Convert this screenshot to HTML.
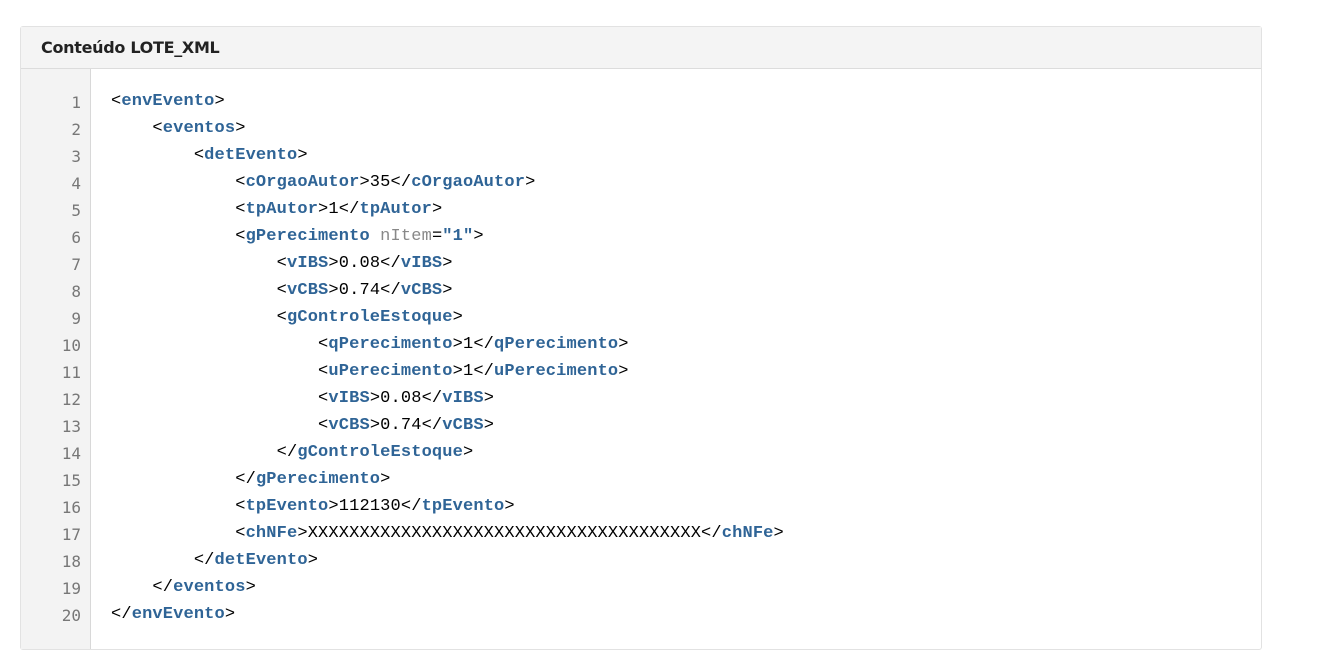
<!DOCTYPE html>
<html><head><meta charset="utf-8"><style>
body{margin:0;background:#fff;width:1329px;height:670px;overflow:hidden}
.card{position:absolute;left:20px;top:26px;width:1240px;height:622px;border:1px solid #e2e2e2;border-radius:3px;background:#fff}
.hd{height:41px;background:#f4f4f4;border-bottom:1px solid #dcdcdc;font:bold 16px "DejaVu Sans","Liberation Sans",sans-serif;color:#222;line-height:42px;padding-left:20px;letter-spacing:-0.3px}
.gut{position:absolute;left:0;top:42px;width:69px;bottom:0;background:#f3f3f3;border-right:1px solid #d8d8d8}
.ln{position:absolute;left:0;width:60px;text-align:right;font:16px "DejaVu Sans Mono","Liberation Mono",monospace;color:#777}
.cd{position:absolute;left:90px;font:17px "Liberation Mono",monospace;color:#000;white-space:pre;letter-spacing:0.15px}
.t{color:#2f6496;font-weight:bold}
.a{color:#888}
</style></head><body>
<div class="card">
<div class="hd">Conteúdo LOTE_XML</div>
<div class="gut"></div>
<div id="c"></div>
</div>
<script>
var L=[
[0,'<<b>envEvento</b>>'],[1,'<<b>eventos</b>>'],[2,'<<b>detEvento</b>>'],
[3,'<<b>cOrgaoAutor</b>>35</<b>cOrgaoAutor</b>>'],[3,'<<b>tpAutor</b>>1</<b>tpAutor</b>>'],
[3,'<<b>gPerecimento</b> <i>nItem</i>=<b>"1"</b>>'],[4,'<<b>vIBS</b>>0.08</<b>vIBS</b>>'],
[4,'<<b>vCBS</b>>0.74</<b>vCBS</b>>'],[4,'<<b>gControleEstoque</b>>'],
[5,'<<b>qPerecimento</b>>1</<b>qPerecimento</b>>'],[5,'<<b>uPerecimento</b>>1</<b>uPerecimento</b>>'],
[5,'<<b>vIBS</b>>0.08</<b>vIBS</b>>'],[5,'<<b>vCBS</b>>0.74</<b>vCBS</b>>'],
[4,'</<b>gControleEstoque</b>>'],[3,'</<b>gPerecimento</b>>'],
[3,'<<b>tpEvento</b>>112130</<b>tpEvento</b>>'],
[3,'<<b>chNFe</b>>'+'X'.repeat(38)+'</<b>chNFe</b>>'],
[2,'</<b>detEvento</b>>'],[1,'</<b>eventos</b>>'],[0,'</<b>envEvento</b>>']];
var h='';
L.forEach(function(l,i){var y=66+i*27;
var s=l[1].replace(/</g,'&lt;').replace(/>/g,'&gt;').replace(/&lt;b&gt;/g,'<span class="t">').replace(/&lt;\/b&gt;/g,'</span>').replace(/&lt;i&gt;/g,'<span class="a">').replace(/&lt;\/i&gt;/g,'</span>');
h+='<div class="ln" style="top:'+y+'px">'+(i+1)+'</div><div class="cd" style="top:'+(y-1)+'px">'+' '.repeat(4*l[0])+s+'</div>';});
document.getElementById('c').innerHTML=h;
</script>
</body></html>
